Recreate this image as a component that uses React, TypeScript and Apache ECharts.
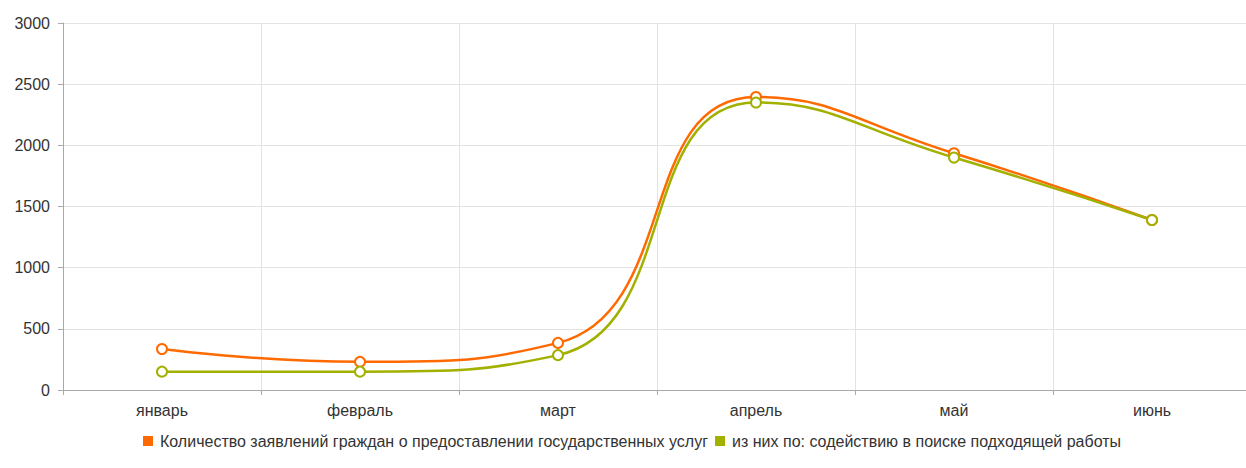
import React, { useEffect, useRef } from "react";
import * as echarts from "echarts";

const categories = ["январь", "февраль", "март", "апрель", "май", "июнь"];
const seriesNames = [
  "Количество заявлений граждан о предоставлении государственных услуг",
  "из них по: содействию в поиске подходящей работы",
];
const totalApplications = [335, 230, 385, 2395, 1935, 1390];
const jobSearchApplications = [150, 150, 285, 2350, 1900, 1390];
const yTicks = { min: 0, max: 3000, interval: 500 };

export default function App() {
  const ref = useRef<HTMLDivElement>(null);
  useEffect(() => {
    if (!ref.current) return;
    const chart = echarts.init(ref.current, null, { renderer: "svg" });
    const font = "Liberation Sans, Arial, sans-serif";
    const axisLabel = { color: "#333", fontSize: 16, fontFamily: font };
    chart.setOption({
      animation: false,
      backgroundColor: "#fff",
      color: ["#ff6a00", "#a2b000"],
      grid: { left: 63, right: 11, top: 23, height: 367 },
      legend: {
        bottom: 14,
        left: 138,
        itemWidth: 10,
        itemHeight: 10,
        itemGap: 7,
        icon: "rect",
        textStyle: { color: "#333", fontSize: 16, fontFamily: font, padding: [0, 0, 0, 2] },
        data: seriesNames.map((n) => ({ name: n, icon: "rect" })),
      },
      xAxis: {
        type: "category",
        data: categories,
        boundaryGap: true,
        axisLine: { lineStyle: { color: "#aaa" } },
        axisTick: { show: true, length: 5, lineStyle: { color: "#aaa" } },
        axisLabel: { ...axisLabel, margin: 12 },
        splitLine: { show: true, lineStyle: { color: "#e3e3e3" } },
      },
      yAxis: {
        type: "value",
        min: yTicks.min,
        max: yTicks.max,
        interval: yTicks.interval,
        axisLine: { show: true, lineStyle: { color: "#aaa" } },
        axisTick: { show: true, length: 5, lineStyle: { color: "#aaa" } },
        axisLabel: { ...axisLabel, margin: 13, formatter: (v: number) => String(v) },
        splitLine: { show: true, lineStyle: { color: "#e3e3e3" } },
      },
      series: [
        {
          name: seriesNames[0],
          type: "line",
          smooth: true,
          data: totalApplications,
          symbol: "emptyCircle",
          symbolSize: 10,
          lineStyle: { width: 2.5 },
          itemStyle: { borderWidth: 2 },
        },
        {
          name: seriesNames[1],
          type: "line",
          smooth: true,
          data: jobSearchApplications,
          symbol: "emptyCircle",
          symbolSize: 10,
          lineStyle: { width: 2.5 },
          itemStyle: { borderWidth: 2 },
        },
      ],
    });
    return () => chart.dispose();
  }, []);
  return (
    <div style={{ position: "fixed", left: 0, top: 0, width: 1246, height: 468, overflow: "hidden", background: "#fff" }}>
      <div ref={ref} style={{ width: 1262, height: 468 }} />
    </div>
  );
}
